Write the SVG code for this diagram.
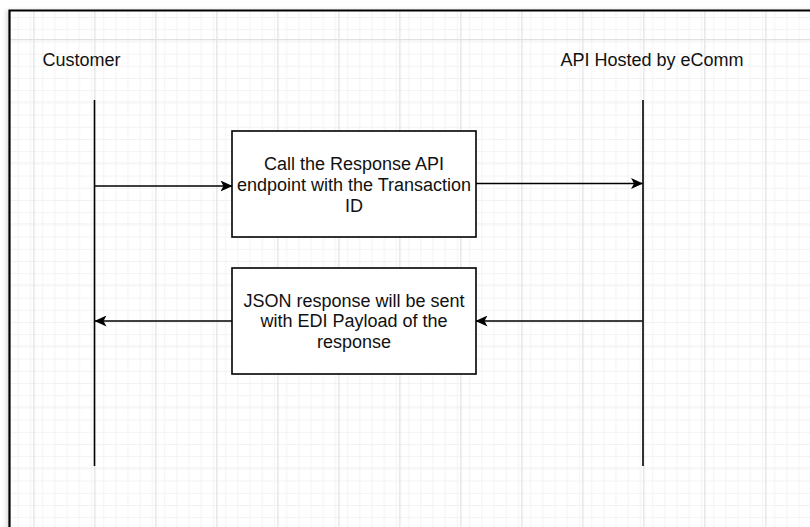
<svg xmlns="http://www.w3.org/2000/svg" width="810" height="527" viewBox="0 0 810 527">
  <defs>
    <pattern id="minorGrid" patternUnits="userSpaceOnUse" x="33.3" y="39" width="12.2" height="12.2">
      <path d="M0 0.5 H12.2 M0.5 0 V12.2" fill="none" stroke="#f2f2f2" stroke-width="1"/>
    </pattern>
    <pattern id="majorGrid" patternUnits="userSpaceOnUse" x="33.3" y="39" width="61" height="61">
      <rect width="61" height="61" fill="url(#minorGrid)"/>
      <path d="M0 0.5 H61 M0.5 0 V61" fill="none" stroke="#e0e0e0" stroke-width="1.4"/>
    </pattern>
    <marker id="arrow" viewBox="0 0 12 11" refX="11.5" refY="5.5" markerWidth="12" markerHeight="11" markerUnits="userSpaceOnUse" orient="auto">
      <path d="M0 0 L12 5.5 L0 11 L3 5.5 Z" fill="#000"/>
    </marker>
    <filter id="softShadow" x="-10%" y="-10%" width="120%" height="120%">
      <feGaussianBlur stdDeviation="2"/>
    </filter>
  </defs>
  <style>
    .label { font-family: "Liberation Sans", Arial, sans-serif; font-size: 18px; fill: #111; }
    .box { fill: #fff; stroke: #000; stroke-width: 1.6; }
    .lifeline { stroke: #000; stroke-width: 1.6; fill: none; }
    .msg { stroke: #000; stroke-width: 1.4; fill: none; }
  </style>

  <!-- page background -->
  <rect x="0" y="0" width="810" height="527" fill="#fff"/>
  <!-- canvas frame with faint shadow -->
  <rect x="6" y="10" width="820" height="530" fill="#bbb" opacity="0.5" filter="url(#softShadow)"/>
  <rect x="10" y="11" width="810" height="530" fill="#fff"/>
  <rect x="10" y="11" width="810" height="530" fill="url(#majorGrid)"/>
  <path d="M9.5 540 V10.5 H820" fill="none" stroke="#000" stroke-width="2.2"/>

  <!-- participants -->
  <g id="customer">
    <text class="label" x="42.5" y="66">Customer</text>
    <line class="lifeline" x1="94.5" y1="100" x2="94.5" y2="466"/>
  </g>
  <g id="api-host">
    <text class="label" x="560.5" y="66">API Hosted by eComm</text>
    <line class="lifeline" x1="643" y1="100" x2="643" y2="466"/>
  </g>

  <!-- message boxes -->
  <g id="request-box">
    <rect class="box" x="232" y="131" width="244" height="106"/>
    <text class="label" text-anchor="middle" x="354" y="169.5">Call the Response API</text>
    <text class="label" text-anchor="middle" x="354" y="190.5">endpoint with the Transaction</text>
    <text class="label" text-anchor="middle" x="354" y="211.5">ID</text>
  </g>
  <g id="response-box">
    <rect class="box" x="232" y="268" width="244" height="106"/>
    <text class="label" text-anchor="middle" x="354" y="306.5">JSON response will be sent</text>
    <text class="label" text-anchor="middle" x="354" y="327">with EDI Payload of the</text>
    <text class="label" text-anchor="middle" x="354" y="347.5">response</text>
  </g>

  <!-- connectors -->
  <g id="connectors">
    <line class="msg" x1="95" y1="186" x2="232" y2="186" marker-end="url(#arrow)"/>
    <line class="msg" x1="476" y1="183.5" x2="642.5" y2="183.5" marker-end="url(#arrow)"/>
    <line class="msg" x1="642.5" y1="321" x2="476" y2="321" marker-end="url(#arrow)"/>
    <line class="msg" x1="232" y1="321" x2="95" y2="321" marker-end="url(#arrow)"/>
  </g>
</svg>
